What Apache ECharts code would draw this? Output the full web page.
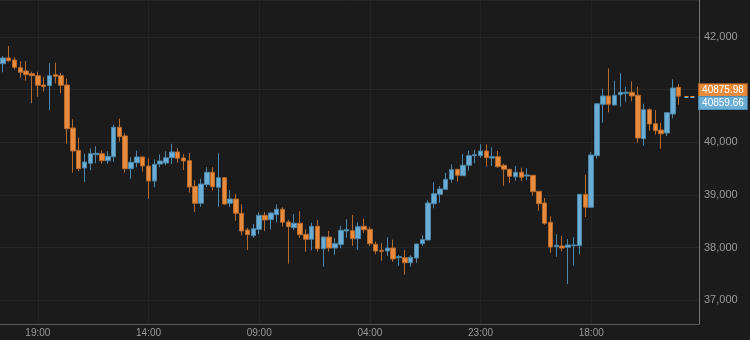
<!DOCTYPE html>
<html>
<head>
<meta charset="utf-8">
<style>
  html, body { margin: 0; padding: 0; background: #1b1b1b; }
  #chart { width: 750px; height: 340px; }
</style>
<script src="https://cdn.jsdelivr.net/npm/echarts@6/dist/echarts.min.js"></script>
</head>
<body>
<div id="chart"></div>
<script>
// hourly candles, first candle at 13:00
const startHour = 13;
const slotCount = 120; // 117 candles + empty slots on the right
const categories = Array.from({ length: slotCount }, (_, i) => String((startHour + i) % 24).padStart(2, '0') + ':00');

const openVals = [41491,41600,41562,41416,41353,41302,41264,41087,41074,41283,
  41264,41087,40271,39848,39512,39602,39765,39784,39651,39727,
  40285,40120,39499,39613,39721,39550,39266,39588,39607,39708,
  39816,39702,39651,39165,38843,39195,39431,39146,39328,38843,
  38924,38653,38336,38228,38349,38615,38531,38626,38729,38488,
  38380,38463,38254,38159,38406,37981,38203,37994,38061,38317,
  38323,38171,38406,38349,38065,37951,37937,37994,37810,37810,
  37715,37805,38076,38146,38835,39013,39108,39298,39488,39366,
  39564,39746,39746,39835,39702,39727,39564,39488,39347,39431,
  39360,39374,39070,38848,38482,38019,38032,38008,38038,38038,
  39013,38767,39746,40721,40879,40708,40903,40930,40949,40892,
  40068,40619,40353,40233,40176,40537,41044];
const closeVals = [41600,41548,41423,41328,41283,41264,41082,41055,41264,41252,
  41082,40258,39835,39499,39626,39784,39791,39651,39734,40285,
  40106,39499,39620,39721,39550,39266,39583,39645,39708,39816,
  39696,39645,39152,38843,39209,39431,39157,39328,38829,38924,
  38653,38317,38247,38361,38615,38526,38658,38729,38482,38398,
  38463,38247,38159,38406,37981,38203,37994,38076,38330,38342,
  38171,38398,38342,38076,37937,37932,37994,37786,37829,37715,
  37818,38070,38152,38848,39025,39114,39298,39480,39374,39564,
  39746,39765,39835,39708,39727,39537,39488,39355,39431,39336,
  39380,39063,38835,38463,38013,38046,37994,38051,38051,39013,
  38767,39759,40732,40879,40721,40892,40949,40949,40879,40082,
  40619,40347,40220,40163,40562,41030,40875.98];
const lowVals = [41328,41529,41385,41226,41169,40740,40865,40960,40607,41120,
  40930,39973,39423,39455,39247,39469,39602,39594,39588,39632,
  40011,39423,39309,39526,39442,38924,39146,39526,39569,39588,
  39613,39474,39044,38677,38778,39152,39082,38778,38810,38778,
  38512,38235,37956,38190,38254,38317,38349,38482,38398,37696,
  38336,38184,37924,37951,37924,37640,37924,37867,37989,38190,
  38038,37956,38279,38032,37875,37753,37843,37734,37653,37488,
  37640,37715,38032,38146,38748,38854,39100,39233,39252,39360,
  39461,39602,39702,39537,39550,39518,39176,39233,39266,39266,
  39285,38987,38702,38436,37905,37829,37932,37311,37658,37875,
  38583,38767,39689,40372,40569,40700,40676,40765,40778,39992,
  39935,40220,40144,39879,40120,40455,40713];
const highVals = [41638,41827,41613,41537,41543,41340,41340,41239,41505,41510,
  41315,41207,40436,40087,39784,39879,39924,39848,39829,40334,
  40448,40171,39715,39841,39730,39696,39677,39772,39829,39973,
  39886,39778,39797,39279,39309,39526,39526,39791,39335,39095,
  39019,38824,38380,38450,38672,38678,38672,38824,38767,38526,
  38640,38691,38349,38474,38526,38210,38317,38178,38412,38539,
  38620,38482,38550,38398,38114,38084,38197,38152,37862,37956,
  37856,38075,38241,38899,39241,39171,39420,39583,39495,39778,
  39841,39854,39962,39962,39905,39835,39594,39495,39550,39518,
  39507,39380,39075,38943,38596,38254,38222,38165,38197,39020,
  39385,39810,40740,41017,41404,41169,41309,41055,41157,41055,
  40732,40645,40613,40372,40570,41195,41106];

const lastPrice = 40875.98;
const bidPrice = 40859.66;
const yMin = 36552, yMax = 42700;
const firstLabelIndex = 6, labelStep = 19;

const candleData = openVals.map((o, i) => [o, closeVals[i], lowVals[i], highVals[i]]);

const UP = '#6aaed6', UP_B = '#4d86a8';
const DOWN = '#e88b3c', DOWN_B = '#b56a2d';
const isLabelIdx = (i) => i >= firstLabelIndex && (i - firstLabelIndex) % labelStep === 0;

const chart = echarts.init(document.getElementById('chart'));
chart.setOption({
  backgroundColor: '#1b1b1b',
  animation: false,
  textStyle: { fontFamily: 'Liberation Sans, Arial, sans-serif' },
  grid: { left: 0, right: 51, top: 0, bottom: 16 },
  xAxis: {
    type: 'category',
    data: categories,
    boundaryGap: true,
    axisLine: { show: true, lineStyle: { color: '#5a5a5a', width: 1 } },
    axisTick: { show: false },
    axisLabel: { color: '#9a9a9a', fontSize: 10, margin: 4, interval: (i) => isLabelIdx(i) },
    splitLine: { show: true, alignWithLabel: true, interval: (i) => isLabelIdx(i), lineStyle: { color: '#242424' } }
  },
  yAxis: {
    type: 'value',
    position: 'right',
    min: yMin,
    max: yMax,
    splitNumber: 5,
    scale: true,
    axisLine: { show: true, lineStyle: { color: '#777777', width: 1 } },
    axisTick: { show: false },
    axisLabel: {
      color: '#9a9a9a', fontSize: 11, margin: 5,
      showMinLabel: false, showMaxLabel: false,
      formatter: (v) => (v % 1000 !== 0 || v === 41000) ? '' : v.toLocaleString('en-US')
    },
    splitLine: { show: true, lineStyle: { color: '#262626' } }
  },
  series: [{
    type: 'candlestick',
    data: candleData,
    barWidth: 5,
    itemStyle: { color: UP, color0: DOWN, borderColor: UP_B, borderColor0: DOWN_B, borderWidth: 1 },
    markLine: {
      symbol: 'none',
      silent: true,
      animation: false,
      data: [
        [
          { coord: [117, lastPrice], lineStyle: { color: DOWN, type: 'dashed', width: 1 },
            label: { show: true, position: 'end', distance: 3, offset: [0, -6], formatter: lastPrice.toFixed(2),
              backgroundColor: DOWN, borderColor: '#b8682a', borderWidth: 1, color: '#ffffff', fontSize: 10, padding: [1, 3, 0, 3], lineHeight: 11 } },
          { coord: [119, lastPrice] }
        ],
        [
          { coord: [117, bidPrice], lineStyle: { color: UP, type: 'dashed', width: 1 },
            label: { show: true, position: 'end', distance: 3, offset: [0, 6], formatter: bidPrice.toFixed(2),
              backgroundColor: UP, borderColor: '#4f8db3', borderWidth: 1, color: '#ffffff', fontSize: 10, padding: [1, 3, 0, 3], lineHeight: 11 } },
          { coord: [119, bidPrice] }
        ]
      ]
    }
  }]
});
</script>
</body>
</html>
